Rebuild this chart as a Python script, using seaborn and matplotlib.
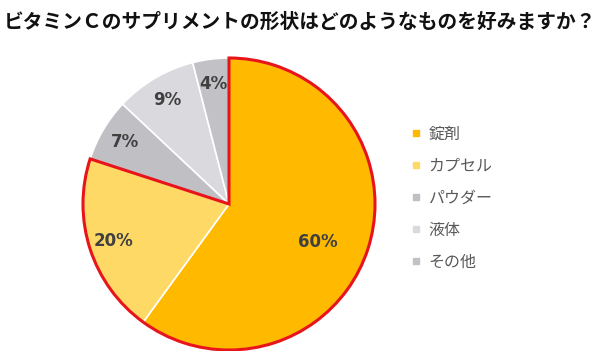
import numpy as np
import matplotlib
matplotlib.use("Agg")
import matplotlib.pyplot as plt
from matplotlib.patches import Wedge
from matplotlib.lines import Line2D
import seaborn as sns

# データ
labels = ["錠剤", "カプセル", "パウダー", "液体", "その他"]
values = [60, 20, 7, 9, 4]
colors = ["#FFBA00", "#FFD966", "#BFBFC4", "#DADADE", "#C2C2C6"]
title = "ビタミンＣのサプリメントの形状はどのようなものを好みますか？"

sns.set_theme(style="white")
plt.rcParams["font.family"] = ["Noto Sans CJK JP", "DejaVu Sans"]

fig = plt.figure(figsize=(6, 3.51), dpi=100)
# pie centre ~ (229, 204) px, radius ~146 px
ax = fig.add_axes([83 / 600, (351 - 204 - 146) / 351, 292 / 600, 292 / 351])

wedges, texts, autotexts = ax.pie(
    values, colors=colors, startangle=90, counterclock=False,
    autopct="%d%%", pctdistance=0.83,
    wedgeprops=dict(edgecolor="white", linewidth=1.2),
    textprops=dict(color="#404040", fontsize=12, fontweight="bold",
                   family="DejaVu Sans"),
)
for w in wedges:
    w.set_clip_on(False)

# 60% label sits further inside and a bit lower
w0 = wedges[0]
mid = np.deg2rad((w0.theta1 + w0.theta2) / 2 - 5)
autotexts[0].set_position((0.66 * np.cos(mid), 0.66 * np.sin(mid)))

# red outline around 錠剤 + カプセル
t1 = wedges[1].theta1
t2 = wedges[0].theta2
ax.add_patch(Wedge((0, 0), 1.0, t1, t2, fill=False, edgecolor="#E8141B",
                   linewidth=2.2, clip_on=False, zorder=5))

ax.set_xlim(-1, 1)
ax.set_ylim(-1, 1)
ax.set_aspect("equal")
ax.axis("off")

fig.text(0.5, 1 - 22 / 351, title, ha="center", va="center",
         fontsize=14.2, fontweight="bold", color="#111111")

handles = [Line2D([], [], marker="s", linestyle="none", markersize=5,
                  markerfacecolor=c, markeredgecolor=c) for c in colors]
fig.legend(handles, labels, loc="center left",
           bbox_to_anchor=(395 / 600, 1 - 198 / 351), frameon=False,
           fontsize=11.5, labelcolor="#595959", handlelength=0.8,
           handletextpad=0.4, labelspacing=0.95)

fig.savefig("out.png", dpi=100)
